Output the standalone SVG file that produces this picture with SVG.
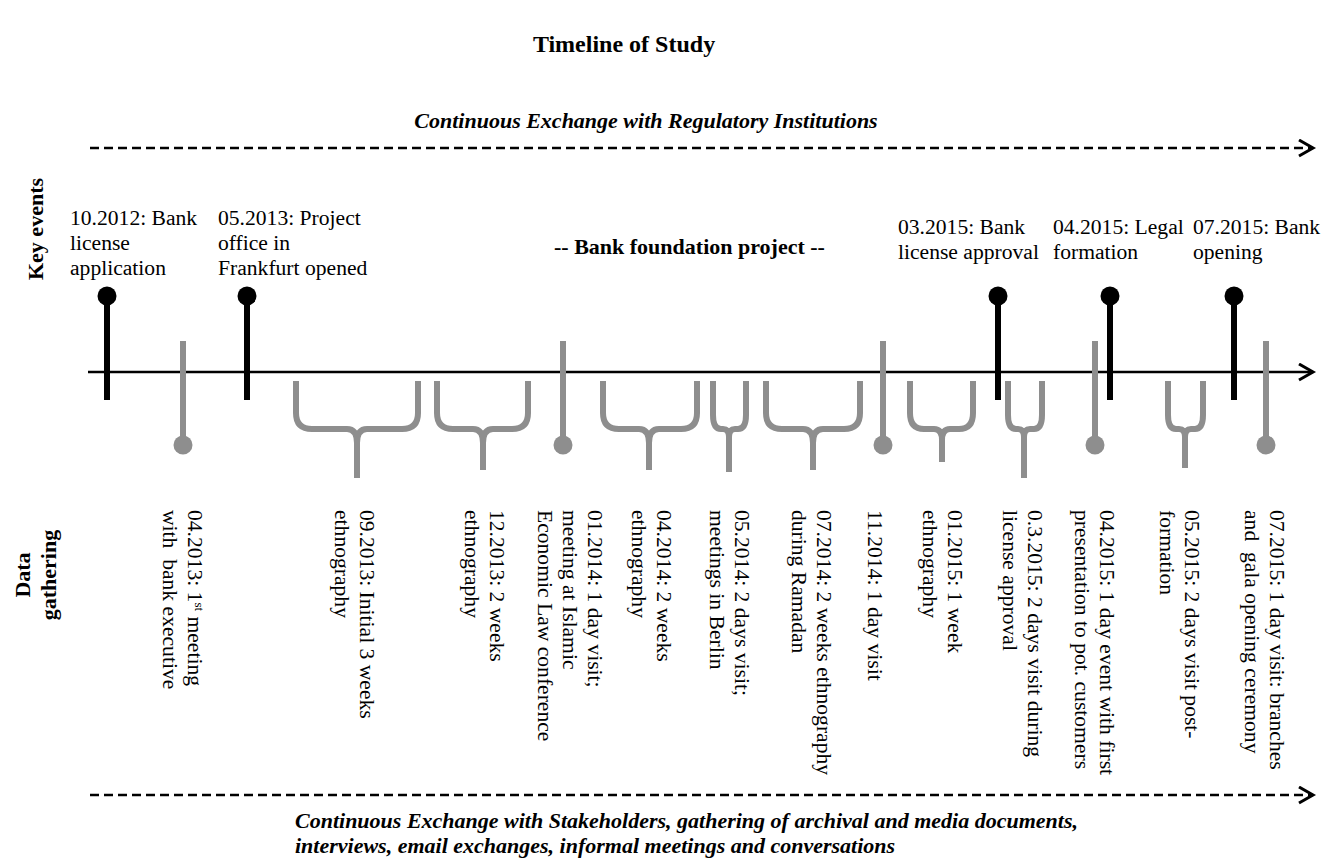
<svg xmlns="http://www.w3.org/2000/svg" width="1338" height="864" viewBox="0 0 1338 864">
<style>
text{font-family:"Liberation Serif","Times New Roman",serif;fill:#000}
.t{font-size:21.6px}
.b{font-weight:bold;font-size:22px}
.bi{font-weight:bold;font-style:italic;font-size:22px}
.ke{stroke:#000;stroke-width:6;fill:none}
.kd{fill:#000}
.gs{stroke:#8e8e8e;stroke-width:6;fill:none}
.gd{fill:#8e8e8e}
.br{stroke:#8e8e8e;stroke-width:6;fill:none;stroke-linejoin:round}
.axis{stroke:#000;stroke-width:2.5;fill:none}
.dash{stroke:#000;stroke-width:2.5;stroke-dasharray:9 5;fill:none}
</style>
<defs>
<marker id="chev" markerUnits="userSpaceOnUse" markerWidth="20" markerHeight="20" refX="16" refY="9" orient="auto">
<path d="M2,1 L16,9 L2,17" fill="none" stroke="#000" stroke-width="3"/>
</marker>
</defs>

<text id="title" class="b" x="624" y="52" text-anchor="middle" style="font-size:24px">Timeline of Study</text>
<text id="reg-label" class="bi" x="646" y="128" text-anchor="middle">Continuous Exchange with Regulatory Institutions</text>
<text id="key-events-label" class="b" transform="translate(43,229) rotate(-90)" text-anchor="middle">Key events</text>
<g id="data-gathering-label">
<text class="b" transform="translate(30,575) rotate(-90)" text-anchor="middle">Data</text>
<text class="b" transform="translate(56,575) rotate(-90)" text-anchor="middle">gathering</text>
</g>
<text id="project-label" class="b" x="554" y="254">-- Bank foundation project --</text>

<g id="connectors">
<line class="dash" x1="90" y1="148" x2="1313" y2="148" marker-end="url(#chev)"/>
<line class="axis" x1="88" y1="372" x2="1313" y2="372" marker-end="url(#chev)"/>
<line class="dash" x1="90" y1="795" x2="1313" y2="795" marker-end="url(#chev)"/>
</g>

<!-- Key events -->
<g id="ke1"><line class="ke" x1="107" y1="296" x2="107" y2="400"/><circle class="kd" cx="107" cy="296" r="9.5"/>
<text class="t" x="70" y="225">10.2012: Bank<tspan x="70" y="250">license</tspan><tspan x="70" y="275">application</tspan></text></g>
<g id="ke2"><line class="ke" x1="247" y1="296" x2="247" y2="400"/><circle class="kd" cx="247" cy="296" r="9.5"/>
<text class="t" x="218" y="225">05.2013: Project<tspan x="218" y="250">office in</tspan><tspan x="218" y="275">Frankfurt opened</tspan></text></g>
<g id="ke3"><line class="ke" x1="998" y1="296" x2="998" y2="400"/><circle class="kd" cx="998" cy="296" r="9.5"/>
<text class="t" x="898" y="234">03.2015: Bank<tspan x="898" y="259">license approval</tspan></text></g>
<g id="ke4"><line class="ke" x1="1110" y1="296" x2="1110" y2="400"/><circle class="kd" cx="1110" cy="296" r="9.5"/>
<text class="t" x="1053" y="234">04.2015: Legal<tspan x="1053" y="259">formation</tspan></text></g>
<g id="ke5"><line class="ke" x1="1234" y1="296" x2="1234" y2="400"/><circle class="kd" cx="1234" cy="296" r="9.5"/>
<text class="t" x="1193" y="234">07.2015: Bank<tspan x="1193" y="259">opening</tspan></text></g>

<!-- Data gathering -->
<g id="dg1"><line class="gs" x1="183" y1="341" x2="183" y2="445"/><circle class="gd" cx="183" cy="445" r="9.5"/>
<text class="t" xml:space="preserve" transform="translate(188,510) rotate(90)">04.2013: 1<tspan baseline-shift="super" style="font-size:13px">st</tspan> meeting<tspan x="0" y="25">with  bank executive</tspan></text></g>
<g id="dg2"><path class="br" d="M296,381 L296,413 Q296,429 312,429 L347,429 Q357,429 357,443 L357,478 M418,381 L418,413 Q418,429 402,429 L367,429 Q357,429 357,443"/>
<text class="t" transform="translate(360,510) rotate(90)">09.2013: Initial 3 weeks<tspan x="0" y="25">ethnography</tspan></text></g>
<g id="dg3"><path class="br" d="M437,381 L437,413 Q437,429 453,429 L473,429 Q483,429 483,443 L483,470 M528,381 L528,413 Q528,429 512,429 L493,429 Q483,429 483,443"/>
<text class="t" transform="translate(490,510) rotate(90)">12.2013: 2 weeks<tspan x="0" y="25">ethnography</tspan></text></g>
<g id="dg4"><line class="gs" x1="563" y1="341" x2="563" y2="445"/><circle class="gd" cx="563" cy="445" r="9.5"/>
<text class="t" transform="translate(588,510) rotate(90)">01.2014: 1 day visit;<tspan x="0" y="25">meeting at Islamic</tspan><tspan x="0" y="50">Economic Law conference</tspan></text></g>
<g id="dg5"><path class="br" d="M603,381 L603,413 Q603,429 619,429 L639,429 Q649,429 649,443 L649,470 M697,381 L697,413 Q697,429 681,429 L659,429 Q649,429 649,443"/>
<text class="t" transform="translate(657,510) rotate(90)">04.2014: 2 weeks<tspan x="0" y="25">ethnography</tspan></text></g>
<g id="dg6"><path class="br" d="M713,381 L713,415 Q713,429 721,429 L723,429 Q729,429 729,437 L729,472 M746,381 L746,415 Q746,429 738,429 L735,429 Q729,429 729,437"/>
<text class="t" transform="translate(735,510) rotate(90)">05.2014: 2 days visit;<tspan x="0" y="25">meetings in Berlin</tspan></text></g>
<g id="dg7"><path class="br" d="M766,381 L766,413 Q766,429 782,429 L803,429 Q813,429 813,443 L813,470 M860,381 L860,413 Q860,429 844,429 L823,429 Q813,429 813,443"/>
<text class="t" transform="translate(817,510) rotate(90)">07.2014: 2 weeks ethnography<tspan x="0" y="25">during Ramadan</tspan></text></g>
<g id="dg8"><line class="gs" x1="883" y1="341" x2="883" y2="445"/><circle class="gd" cx="883" cy="445" r="9.5"/>
<text class="t" transform="translate(868,510) rotate(90)">11.2014: 1 day visit</text></g>
<g id="dg9"><path class="br" d="M910,381 L910,413 Q910,429 924,429 L934,429 Q942,429 942,440 L942,462 M973,381 L973,413 Q973,429 959,429 L950,429 Q942,429 942,440"/>
<text class="t" transform="translate(948,510) rotate(90)">01.2015: 1 week<tspan x="0" y="25">ethnography</tspan></text></g>
<g id="dg10"><path class="br" d="M1008,381 L1008,415 Q1008,429 1016,429 L1018,429 Q1024,429 1024,437 L1024,478 M1042,381 L1042,415 Q1042,429 1034,429 L1030,429 Q1024,429 1024,437"/>
<text class="t" transform="translate(1028,510) rotate(90)">0.3.2015: 2 days visit during<tspan x="0" y="25">license approval</tspan></text></g>
<g id="dg11"><line class="gs" x1="1095" y1="341" x2="1095" y2="445"/><circle class="gd" cx="1095" cy="445" r="9.5"/>
<text class="t" transform="translate(1100,510) rotate(90)">04.2015: 1 day event with first<tspan x="0" y="25">presentation to pot. customers</tspan></text></g>
<g id="dg12"><path class="br" d="M1168,381 L1168,415 Q1168,429 1176,429 L1179,429 Q1185,429 1185,437 L1185,468 M1203,381 L1203,415 Q1203,429 1195,429 L1191,429 Q1185,429 1185,437"/>
<text class="t" transform="translate(1185,510) rotate(90)">05.2015: 2 days visit post-<tspan x="0" y="25">formation</tspan></text></g>
<g id="dg13"><line class="gs" x1="1266" y1="341" x2="1266" y2="445"/><circle class="gd" cx="1266" cy="445" r="9.5"/>
<text class="t" xml:space="preserve" transform="translate(1270,510) rotate(90)">07.2015: 1 day visit: branches<tspan x="0" y="25">and  gala opening ceremony</tspan></text></g>

<text id="stakeholders-label" class="bi" x="295" y="828">Continuous Exchange with Stakeholders, gathering of archival and media documents,<tspan x="295" y="853">interviews, email exchanges, informal meetings and conversations</tspan></text>
</svg>
